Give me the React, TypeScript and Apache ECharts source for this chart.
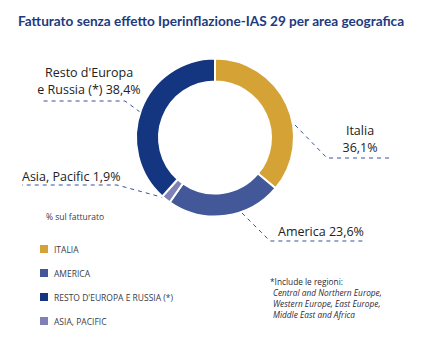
import React, { useEffect, useRef } from "react";
import * as echarts from "echarts";

const titleText = "Fatturato senza effetto Iperinflazione-IAS 29 per area geografica";
// clockwise order from the top of the ring
const categories = ["Italia", "America", "Asia, Pacific", "Resto d'Europa e Russia (*)"];
const values = [36.1, 23.6, 1.9, 38.4];
const labelNames = ["Italia\n", "America ", "Asia, Pacific ", "Resto d'Europa\ne Russia (*) "];
const legendOrder = ["Italia", "America", "Resto d'Europa e Russia (*)", "Asia, Pacific"];
const footnoteLines = [
  "*Include le regioni:",
  "Central and Northern Europe,",
  "Western Europe, East Europe,",
  "Middle East and Africa",
];
const legendTitle = "% sul fatturato";

const colors = ["#D5A236", "#435898", "#7F81B6", "#14357F"];
const lineColor = "#3A519C";

// label layout (positions only)
const labelLayouts = [
  { x: 360, y: 139, align: "center", pts: [[295, 125], [327, 158], [390, 158]] },
  { x: 278, y: 231, align: "left", pts: [[242, 213], [270, 241], [363, 241]] },
  { x: 22, y: 176, align: "left", pts: [[165, 198], [117, 185], [22, 185]] },
  { x: 89, y: 81, align: "center", pts: [[140, 112], [125, 101], [40, 101]] },
];

const fmt = (v: number) => v.toFixed(1).replace(".", ",") + "%";

export default function App() {
  const ref = useRef<HTMLDivElement>(null);
  useEffect(() => {
    if (!ref.current) return;
    const chart = echarts.init(ref.current, null, { renderer: "svg" });
    const font = "'Open Sans', 'Noto Sans', sans-serif";
    chart.setOption({
      animation: false,
      color: colors,
      textStyle: { fontFamily: font },
      title: {
        text: titleText,
        left: 13,
        top: 9,
        textStyle: {
          fontSize: 13.6,
          fontWeight: "bold",
          color: "#1D3A80",
          fontFamily: "'Lato', sans-serif",
        },
      },
      legend: {
        orient: "vertical",
        left: 38,
        top: 243,
        padding: 0,
        itemWidth: 10,
        itemHeight: 10,
        itemGap: 12,
        icon: "rect",
        data: legendOrder,
        formatter: (n: string) => n.toUpperCase(),
        textStyle: { fontSize: 8.5, color: "#3a3a4a", fontFamily: font },
        selectedMode: false,
      },
      graphic: [
        {
          type: "text",
          left: 46,
          top: 212,
          style: { text: legendTitle, fontSize: 8.5, fill: "#3a3a4a", fontFamily: font },
        },
        ...footnoteLines.map((t, i) => ({
          type: "text",
          left: i === 0 ? 270 : 273,
          top: 277 + i * 11.3,
          style: {
            text: t,
            fontSize: 8.3,
            fill: "#2a2a3a",
            fontStyle: i === 0 ? "normal" : "italic",
            fontFamily: font,
          },
        })),
      ],
      series: [
        {
          type: "pie",
          center: [215, 137.5],
          radius: [56, 79],
          startAngle: 90,
          clockwise: true,
          avoidLabelOverlap: false,
          itemStyle: { borderColor: "#ffffff", borderWidth: 2 },
          emphasis: { disabled: true },
          data: categories.map((c, i) => ({ name: c, value: values[i] })),
          label: {
            show: true,
            position: "outside",
            formatter: (p: any) => labelNames[p.dataIndex] + fmt(p.value),
            fontSize: 12.5,
            lineHeight: 16.5,
            color: "#222222",
            fontFamily: font,
          },
          labelLine: {
            show: true,
            lineStyle: { color: lineColor, width: 1, type: [4, 4] },
          },
          labelLayout: (p: any) => {
            const l = labelLayouts[p.dataIndex];
            return {
              x: l.x,
              y: l.y,
              align: l.align,
              verticalAlign: "middle",
              labelLinePoints: l.pts,
            };
          },
        },
      ],
    });
    return () => chart.dispose();
  }, []);
  return (
    <div
      ref={ref}
      style={{ position: "fixed", left: 0, top: 0, width: 423, height: 353, background: "#fff" }}
    />
  );
}
